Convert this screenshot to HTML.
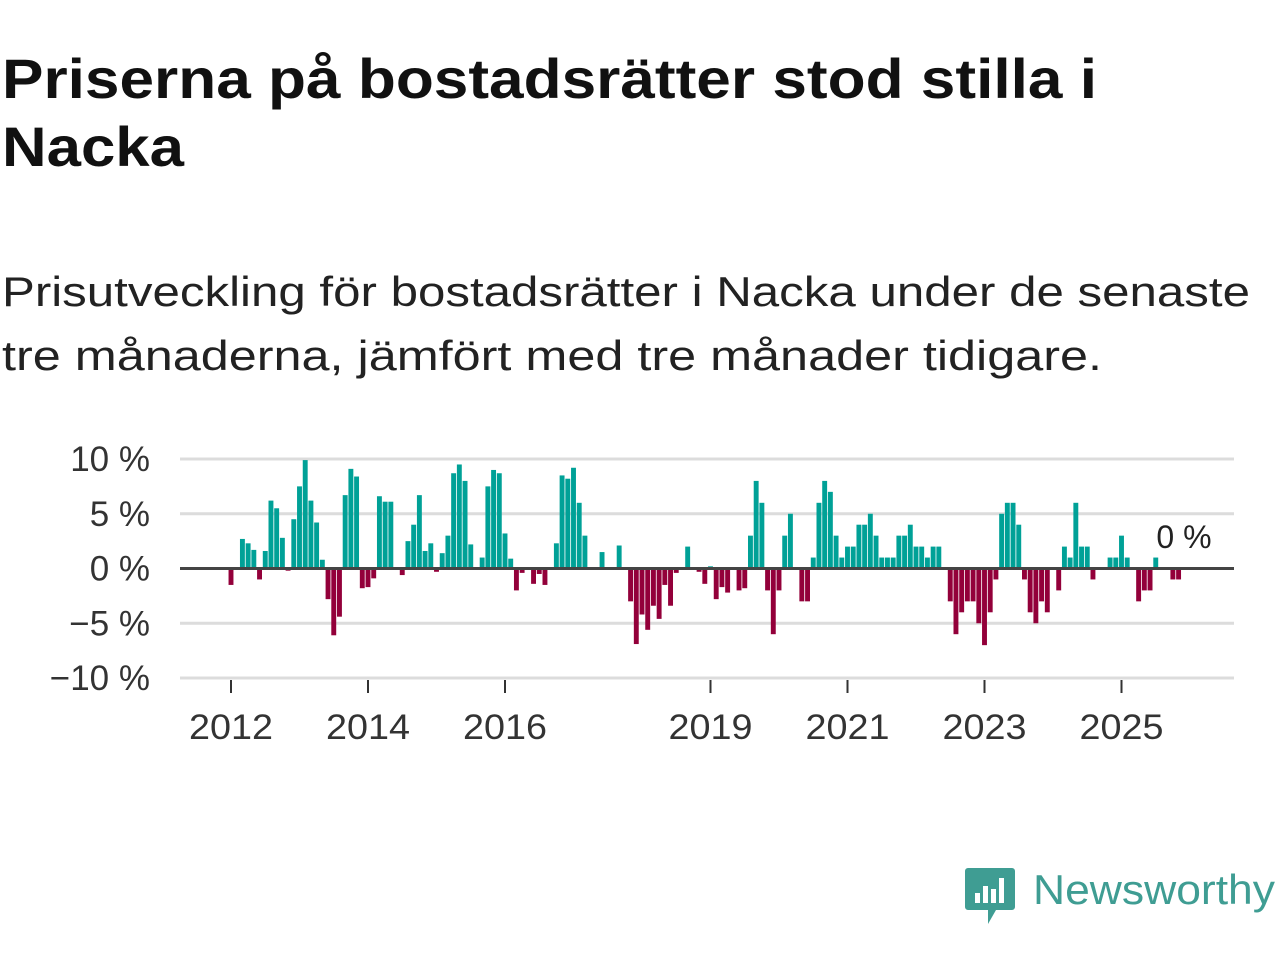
<!DOCTYPE html>
<html><head><meta charset="utf-8"><style>
html,body{margin:0;padding:0;background:#fff;}
svg{display:block;font-family:"Liberation Sans","DejaVu Sans",sans-serif;}
</style></head><body>
<svg id="chart" width="1280" height="960" viewBox="0 0 1280 960" xmlns="http://www.w3.org/2000/svg">
<text x="2" y="98" font-size="56" font-weight="bold" fill="#111" textLength="1095" lengthAdjust="spacingAndGlyphs">Priserna på bostadsrätter stod stilla i</text>
<text x="2" y="166" font-size="56" font-weight="bold" fill="#111" textLength="182" lengthAdjust="spacingAndGlyphs">Nacka</text>
<text x="2" y="306" font-size="42" fill="#222" textLength="1248" lengthAdjust="spacingAndGlyphs">Prisutveckling för bostadsrätter i Nacka under de senaste</text>
<text x="2" y="370" font-size="42" fill="#222" textLength="1100" lengthAdjust="spacingAndGlyphs">tre månaderna, jämfört med tre månader tidigare.</text>
<g id="grid"></g>
<g id="bars"></g>
<g id="axes"></g>
<text x="1184" y="548" font-size="32" fill="#222" text-anchor="middle">0 %</text>
<g>
<path d="M968 868 h44 a3 3 0 0 1 3 3 v36 a3 3 0 0 1 -3 3 h-16 l-8 14 v-14 h-20 a3 3 0 0 1 -3 -3 v-36 a3 3 0 0 1 3 -3z" fill="#3f9d93"/>
<rect x="975" y="893" width="5" height="10" fill="#fff"/><rect x="983" y="886" width="5" height="17" fill="#fff"/><rect x="991" y="889" width="5" height="14" fill="#fff"/><rect x="999" y="878" width="5" height="25" fill="#fff"/>
<text x="1033" y="904" font-size="42" fill="#3f9d93" textLength="242" lengthAdjust="spacingAndGlyphs">Newsworthy</text>
</g>
</svg>
<script>
const startYear = 2012;
const values = [-1.5,0,2.7,2.3,1.7,-1.0,1.6,6.2,5.5,2.8,-0.2,4.5,7.5,9.9,6.2,4.2,0.8,-2.8,-6.1,-4.4,6.7,9.1,8.4,-1.8,-1.7,-0.9,6.6,6.1,6.1,0,-0.6,2.5,4.0,6.7,1.6,2.3,-0.3,1.4,3.0,8.7,9.5,8.0,2.2,0,1.0,7.5,9.0,8.7,3.2,0.9,-2.0,-0.4,0,-1.4,-0.5,-1.5,0,2.3,8.5,8.2,9.2,6.0,3.0,0,0,1.5,0,0,2.1,0,-3.0,-6.9,-4.2,-5.6,-3.4,-4.6,-1.5,-3.4,-0.4,0,2.0,0,-0.3,-1.4,0.2,-2.8,-1.7,-2.2,0,-2.0,-1.8,3,8,6,-2,-6,-2,3,5,0,-3,-3,1,6,8,7,3,1,2,2,4,4,5,3,1,1,1,3,3,4,2,2,1,2,2,0,-3,-6,-4,-3,-3,-5,-7,-4,-1,5,6,6,4,-1,-4,-5,-3,-4,0,-2,2,1,6,2,2,-1,0,0,1,1,3,1,0,-3,-2,-2,1,0,0,-1,-1];
const yTicks = [10,5,0,-5,-10];
const yTickLabels = ["10 %","5 %","0 %","−5 %","−10 %"];
const xTicks = [2012,2014,2016,2019,2021,2023,2025];
const NS="http://www.w3.org/2000/svg";
const x0=231, pxPerYear=68.5, zeroY=568.5, pxPerPct=10.95;
function xScale(monthsFromStart){return x0+monthsFromStart*pxPerYear/12;}
function yScale(v){return zeroY-v*pxPerPct;}
const grid=document.getElementById('grid'), bars=document.getElementById('bars'), axes=document.getElementById('axes');
yTicks.forEach((t,i)=>{
  if(t!==0){
    const l=document.createElementNS(NS,'line');
    
    
    l.setAttribute('x1',180);l.setAttribute('x2',1234);l.setAttribute('y1',yScale(t));l.setAttribute('y2',yScale(t));
    l.setAttribute('stroke','#dcdcdc');l.setAttribute('stroke-width',3);grid.appendChild(l);
  }
  const tx=document.createElementNS(NS,'text');
  
  
  tx.setAttribute('x',150);tx.setAttribute('y',yScale(t)+12);tx.setAttribute('text-anchor','end');
  tx.setAttribute('font-size',35);tx.setAttribute('fill','#333');tx.textContent=yTickLabels[i];grid.appendChild(tx);
});
const bw=pxPerYear/12-0.8;
values.forEach((v,i)=>{
  if(v===0) return;
  const r=document.createElementNS(NS,'rect');
  
  
  const cx=xScale(i);
  r.setAttribute('x',cx-bw/2);r.setAttribute('width',bw);
  r.setAttribute('y',Math.min(yScale(v),zeroY));r.setAttribute('height',Math.abs(yScale(v)-zeroY));
  r.setAttribute('fill',v>0?'#00a197':'#93003a');bars.appendChild(r);
});
const zl=document.createElementNS(NS,'line');


zl.setAttribute('x1',180);zl.setAttribute('x2',1234);zl.setAttribute('y1',zeroY);zl.setAttribute('y2',zeroY);
zl.setAttribute('stroke','#444');zl.setAttribute('stroke-width',3);axes.appendChild(zl);
xTicks.forEach(y=>{
  const x=xScale((y-startYear)*12);
  const t=document.createElementNS(NS,'line');
  
  
  t.setAttribute('x1',x);t.setAttribute('x2',x);t.setAttribute('y1',680);t.setAttribute('y2',693);
  t.setAttribute('stroke','#333');t.setAttribute('stroke-width',2);axes.appendChild(t);
  const tx=document.createElementNS(NS,'text');
  
  
  tx.setAttribute('x',x);tx.setAttribute('y',739);tx.setAttribute('text-anchor','middle');
  tx.setAttribute('font-size',35);tx.setAttribute('fill','#333');
  tx.setAttribute('textLength',84);tx.setAttribute('lengthAdjust','spacingAndGlyphs');
  tx.textContent=y;axes.appendChild(tx);
});
</script>
</body></html>
